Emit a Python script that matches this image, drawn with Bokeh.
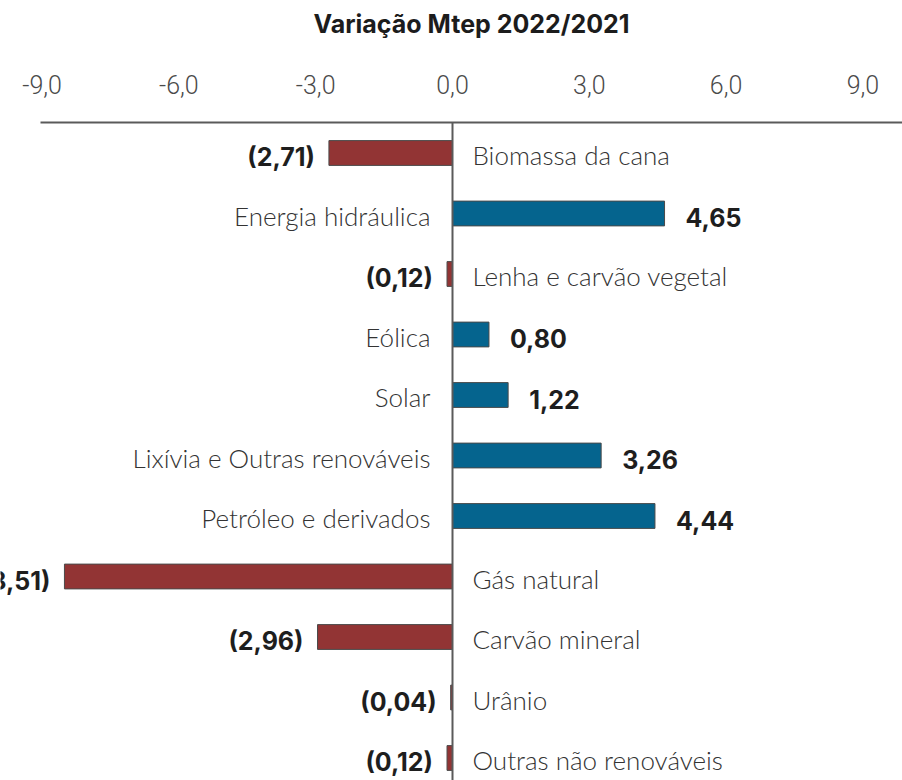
from bokeh.plotting import figure
from bokeh.models import Range1d, FixedTicker, CustomJSTickFormatter, Span, ColumnDataSource
from bokeh.core.properties import value
from bokeh.embed import file_html
from bokeh.resources import INLINE

# ---------------- data ----------------
categories = [
    "Biomassa da cana",
    "Energia hidráulica",
    "Lenha e carvão vegetal",
    "Eólica",
    "Solar",
    "Lixívia e Outras renováveis",
    "Petróleo e derivados",
    "Gás natural",
    "Carvão mineral",
    "Urânio",
    "Outras não renováveis",
]
variation = [-2.71, 4.65, -0.12, 0.80, 1.22, 3.26, 4.44, -8.51, -2.96, -0.04, -0.12]
tick_values = [-9.0, -6.0, -3.0, 0.0, 3.0, 6.0, 9.0]
title_text = "Variação Mtep 2022/2021"

# ---------------- styling ----------------
POS_COLOR = "#05648e"
NEG_COLOR = "#923434"
CAT_FONT = "Lato Light"
TICK_FONT = "Roboto Light"
VAL_FONT = "Inter"

W, H = 902, 780
PX_PER_UNIT = 45.6
ZERO_X = 452
ROW_PX = 60.5
FRAME_TOP = 122
FIRST_ROW = 152.5
TITLE_LEFT = 313

x_start = -ZERO_X / PX_PER_UNIT
x_end = (W - ZERO_X) / PX_PER_UNIT
y_top = -(FIRST_ROW - FRAME_TOP) / ROW_PX
y_bottom = (H - FIRST_ROW) / ROW_PX

rows = list(range(len(categories)))


def fmt(v):
    s = f"{abs(v):.2f}".replace(".", ",")
    return s if v >= 0 else f"({s})"


pos = [i for i, v in enumerate(variation) if v >= 0]
neg = [i for i, v in enumerate(variation) if v < 0]

src_pos = ColumnDataSource(dict(
    row=[rows[i] for i in pos],
    val=[variation[i] for i in pos],
    cat=[categories[i] for i in pos],
    lab=[fmt(variation[i]) for i in pos],
))
src_neg = ColumnDataSource(dict(
    row=[rows[i] for i in neg],
    val=[variation[i] for i in neg],
    cat=[categories[i] for i in neg],
    lab=[fmt(variation[i]) for i in neg],
))

p = figure(
    width=W, height=H,
    x_range=Range1d(x_start, x_end),
    y_range=Range1d(y_bottom, y_top),
    x_axis_location="above", y_axis_location=None,
    output_backend="svg", toolbar_location=None,
    min_border_left=0, min_border_right=0, min_border_bottom=0,
    min_border_top=FRAME_TOP,
)
p.outline_line_color = None
p.xgrid.visible = False
p.ygrid.visible = False

# title: left aligned at the measured offset; the empty second line keeps a gap above the ticks
p.title.text = title_text + "\n"
p.title.align = "left"
p.title.offset = TITLE_LEFT
p.title.standoff = 0
p.title.vertical_align = "bottom"
p.title.text_font = "Inter"
p.title.text_font_style = "bold"
p.title.text_font_size = "25px"
p.title.text_line_height = 1.1
p.title.text_color = "#1c1c1c"

# axis
ax = p.xaxis[0]
ax.ticker = FixedTicker(ticks=tick_values)
ax.formatter = CustomJSTickFormatter(code="return tick.toFixed(1).replace('.', ',');")
ax.bounds = (-9.03, 10.0)
ax.axis_line_color = "#5a5a5a"
ax.axis_line_width = 2
ax.major_tick_line_color = None
ax.minor_tick_line_color = None
ax.major_tick_out = 0
ax.major_tick_in = 0
ax.major_label_standoff = 29
ax.major_label_text_font = TICK_FONT
ax.major_label_text_font_size = "25px"
ax.major_label_text_color = "#4a4a4a"

# zero line
p.add_layout(Span(location=0, dimension="height", line_color="#5a5a5a", line_width=2))

# bars
BAR_H = 0.41
p.hbar(y="row", left=0, right="val", height=BAR_H, source=src_pos,
       fill_color=POS_COLOR, line_color="#4a4a4a", line_width=1)
p.hbar(y="row", left=0, right="val", height=BAR_H, source=src_neg,
       fill_color=NEG_COLOR, line_color="#4a4a4a", line_width=1)

# value labels
p.text(x="val", y="row", text="lab", source=src_pos, x_offset=21, y_offset=4,
       text_align="left", text_baseline="middle",
       text_font=value(VAL_FONT), text_font_style="bold", text_font_size="25px",
       text_color="#1e1e1e")
p.text(x="val", y="row", text="lab", source=src_neg, x_offset=-14, y_offset=4,
       text_align="right", text_baseline="middle",
       text_font=value(VAL_FONT), text_font_style="bold", text_font_size="25px",
       text_color="#1e1e1e")

# category labels
p.text(x=0, y="row", text="cat", source=src_pos, x_offset=-22, y_offset=2,
       text_align="right", text_baseline="middle",
       text_font=value(CAT_FONT), text_font_size="26px", text_color="#333333")
p.text(x=0, y="row", text="cat", source=src_neg, x_offset=20, y_offset=2,
       text_align="left", text_baseline="middle",
       text_font=value(CAT_FONT), text_font_size="26px", text_color="#333333")

open("out.html", "w").write(file_html(p, INLINE))
